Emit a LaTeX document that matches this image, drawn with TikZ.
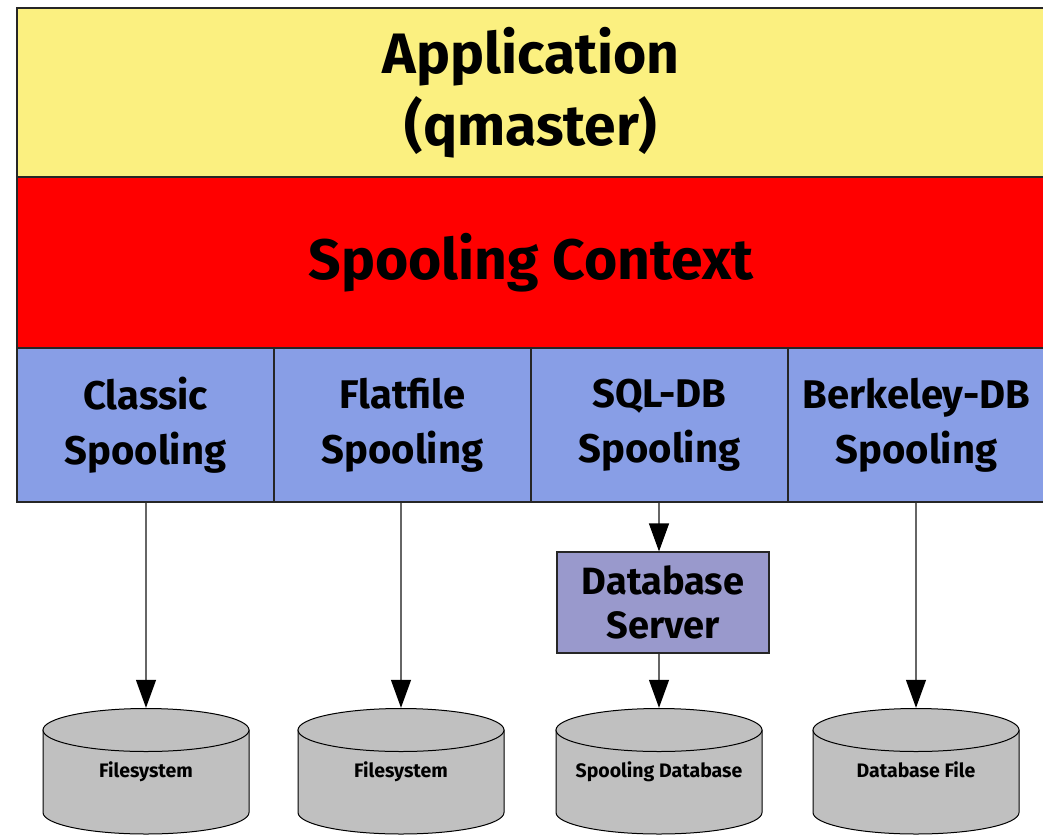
\documentclass[tikz,border=0pt]{standalone}
\usepackage{fontspec}
\setmainfont{Fira Sans}
\usetikzlibrary{arrows.meta}
\tikzset{
  layer/.style={draw=black!85, line width=1.5pt, inner sep=0pt, align=center,
    font=\bfseries\fontsize{57}{72}\selectfont},
  spooler/.style={layer, fill=spoolcol, minimum width=257pt, minimum height=154pt,
    font=\bfseries\fontsize{40}{55}\selectfont},
  server/.style={draw=black!85, line width=1.2pt, fill=servercol, align=center,
    minimum width=212pt, minimum height=101pt, inner sep=0pt,
    font=\bfseries\fontsize{38}{44}\selectfont},
  storebody/.style={draw=black, line width=1pt, fill=storecol},
  store/.style={minimum width=206pt, minimum height=126pt, inner sep=0pt,
    text height=14pt, text depth=2pt, font=\bfseries\fontsize{19.5}{22}\selectfont},
  flow/.style={->, line width=1.2pt, draw=black!60}
}

\begin{document}
\begin{tikzpicture}[x=1pt, y=-1pt, >={Triangle[length=28pt, width=20pt, color=black]}]
  % Colours of the layers.
  \definecolor{appcol}{RGB}{251,240,128}
  \definecolor{ctxcol}{RGB}{255,0,0}
  \definecolor{spoolcol}{RGB}{136,158,230}
  \definecolor{servercol}{RGB}{153,153,204}
  \definecolor{storecol}{RGB}{192,192,192}

  \clip (0,0) rectangle (1043,835);

  % Application and spooling context.
  \node[layer, fill=appcol, minimum width=1028pt, minimum height=169pt] (app) at (531,92.5) {Application\\(qmaster)};
  \node[layer, fill=ctxcol, minimum width=1028pt, minimum height=171pt] (ctx) at (531,262.5) {Spooling Context};

  % Spooling methods.
  \node[spooler] (classic) at (145.5,425) {Classic\\Spooling};
  \node[spooler] (flat) at (402.5,425) {Flatfile\\Spooling};
  \node[spooler] (sql) at (659.5,425) {SQL-DB\\Spooling};
  \node[spooler] (bdb) at (916.5,425) {Berkeley-DB\\Spooling};

  % Database server.
  \node[server] (dbsrv) at (663,602.5) {Database\\Server};

  % Storage cylinders.
  \foreach \cx in {146,401,659,916} {
    \draw[storebody] (\cx-103,730) -- (\cx-103,812.5)
      arc[start angle=180, end angle=0, x radius=103, y radius=21.5]
      -- (\cx+103,730) -- cycle;
    \draw[storebody] (\cx,730) ellipse[x radius=103, y radius=21.5];
  }
  \node[store] (fs1) at (146,771) {Filesystem};
  \node[store] (fs2) at (401,771) {Filesystem};
  \node[store] (spooldb) at (659,771) {Spooling Database};
  \node[store] (dbfile) at (916,771) {Database File};

  % Connections.
  \draw[flow] (classic.south -| fs1.north) -- (fs1.north);
  \draw[flow] (flat.south -| fs2.north) -- (fs2.north);
  \draw[flow] (sql.south -| spooldb.north) -- (dbsrv.north -| spooldb.north);
  \draw[flow] (dbsrv.south -| spooldb.north) -- (spooldb.north);
  \draw[flow] (bdb.south -| dbfile.north) -- (dbfile.north);
\end{tikzpicture}
\end{document}
